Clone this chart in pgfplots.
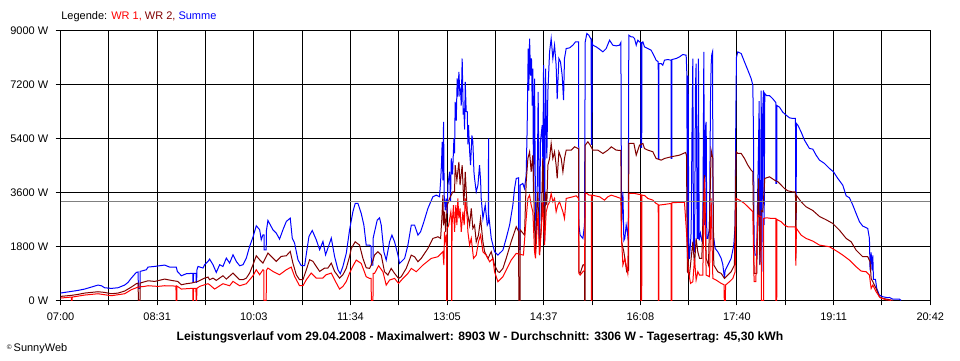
\documentclass[border=0pt]{standalone}
\usepackage{fontspec}
\setmainfont{Liberation Sans}
\usepackage{pgfplots}
\pgfplotsset{compat=1.18}
\definecolor{wrone}{RGB}{255,0,0}
\definecolor{wrtwo}{RGB}{128,0,0}
\definecolor{summe}{RGB}{0,0,255}
\definecolor{avgc}{RGB}{128,128,128}
\begin{document}
\begin{tikzpicture}
\path[use as bounding box] (-45.4pt,-44.8pt) rectangle (674.6pt,225.3pt);
\begin{axis}[
  at={(0pt,0pt)}, anchor=south west,
  scale only axis, width=652.3pt, height=202.4pt,
  xmin=0, xmax=822, ymin=0, ymax=9000,
  xtick={0,91.333,182.667,274,365.333,456.667,548,639.333,730.667,822},
  xticklabels={07:00,08:31,10:03,11:34,13:05,14:37,16:08,17:40,19:11,20:42},
  minor xtick={45.667,137,228.333,319.667,411,502.333,593.667,685,776.333},
  ytick={0,1800,3600,5400,7200,9000},
  yticklabels={0 W,1800 W,3600 W,5400 W,7200 W,9000 W},
  grid=both,
  major grid style={black, line width=0.75pt},
  minor grid style={black, line width=0.75pt},
  axis line style={black, line width=0.75pt},
  every tick/.style={black, line width=0.75pt},
  tick align=outside,
  major tick length=3.75pt, minor tick length=3.75pt,
  xtick pos=bottom, ytick pos=left,
  ticklabel style={font=\fontsize{8.25}{10}\selectfont},
  xticklabel style={yshift=-2.25pt},
  yticklabel style={xshift=-1.9pt},
  line join=miter,
]
\addplot[summe, line width=0.75pt] table {
t w
0 245
10.2 300
16.5 333
22.8 378
29.1 444
35.4 511
38.6 489
41.7 422
48.0 400
54.3 422
60.6 511
63.8 600
66.9 744
71.6 933
73.4 950
73.5 400
75.1 400
75.2 967
81.1 1022
82.7 1111
89.0 1133
98.4 1178
103.1 1111
109.4 1111
110.4 967
114.2 822
118.9 889
123.6 900
125.1 900
125.2 600
125.6 600
125.7 900
128.1 900
128.2 600
128.7 600
128.8 1000
129.9 1133
134.6 1080
136.2 1189
139.4 1300
140.9 1378
144.1 1189
147.2 933
150.4 1189
153.5 1133
156.7 1411
159.8 1244
163.0 1522
166.1 1300
169.3 1156
172.4 1189
175.6 1411
178.7 1800
181.9 2111
185.0 2489
188.2 2356
189.7 2022
191.3 2189
192.3 2189
192.4 1689
194.4 1689
194.5 2300
196.0 2667
200.7 2356
203.9 2244
207.0 2044
210.2 2356
213.4 2633
217.1 2744
219.0 2078
221.2 1911
224.4 1356
227.5 1156
230.7 1156
232.9 1689
234.8 2133
237.9 2333
241.7 2022
244.9 1689
248.0 1967
250.5 1522
252.7 1744
255.9 2078
259.0 1467
262.2 1022
264.4 889
266.9 1133
270.1 1578
273.2 2356
276.3 2956
278.5 3233
281.1 3233
284.2 2900
286.7 2511
288.9 1844
292.1 1844
293.6 1800
293.7 1178
295.3 1178
295.4 2067
299.3 2678
301.5 2756
303.1 2511
305.6 1622
307.8 1344
311.0 1956
313.2 2178
315.7 1956
318.9 1511
320.4 1233
325.2 1400
328.3 1844
331.5 2511
334.6 2511
337.8 2178
340.3 2289
343.4 2622
347.2 3067
351.9 3456
355.1 3511
358.2 3456
359.2 3956
360.1 4600
360.7 5289
361.4 4000
362.0 5956
362.6 3500
363.6 3000
364.5 3400
365.5 2900
366.1 3844
367.7 4289
368.6 3300
369.3 4733
370.5 4200
371.8 5400
372.4 4900
373.0 6622
374.0 6000
374.9 7400
375.6 6800
376.5 7622
377.4 6900
378.1 7000
378.7 6500
379.6 8067
380.6 6200
381.2 6400
381.9 5700
382.5 7289
383.4 6300
384.4 6289
385.0 5200
385.6 5844
386.6 5000
387.5 4511
388.8 5500
389.7 5289
390.7 4300
391.3 4067
392.9 3622
394.5 3844
396.0 4511
397.0 4000
397.6 3400
399.2 2733
401.4 3178
403.3 2511
404.4 2600
404.5 5400
404.7 2844
407.1 2067
410.2 1622
413.4 1511
414.9 1567
418.1 1678
421.2 2067
424.4 2511
427.5 3178
429.1 3733
430.7 4067
432.9 4089
433.0 1700
434.3 1700
434.4 3844
436.9 3900
438.5 3733
440.1 4178
441.0 5733
442.0 8400
442.6 7000
443.3 8733
444.2 7500
445.1 8067
445.8 6500
446.4 7733
447.0 3622
448.0 7400
448.9 2956
449.6 2067
450.5 3622
451.4 6956
452.7 1844
453.6 5289
455.2 5844
455.9 4500
456.5 7844
457.4 1956
458.4 7733
459.6 4733
460.6 6956
462.2 8289
463.7 8733
465.3 8067
466.9 8511
468.4 7844
469.4 6711
471.0 8067
472.5 7956
474.1 7511
475.4 6678
476.3 8067
477.9 8400
481.1 8422
484.2 8511
486.7 8622
489.6 8622
489.9 2511
491.1 2178
493.7 2067
495.2 2511
495.9 8622
497.4 8900
499.3 8844
501.5 8700
501.7 5200
502.2 5200
502.5 8600
503.1 8511
506.3 8456
509.4 8378
512.6 8289
515.7 8400
518.9 8678
522.0 8511
525.2 8489
528.3 8511
529.6 8600
530.2 2511
531.5 3622
532.4 2000
533.3 2067
534.6 2511
535.9 2233
536.5 2000
537.1 8844
539.3 8789
540.9 8789
542.5 8733
544.1 8511
545.6 8678
547.2 8622
548.5 8600
548.6 5100
549.3 5100
549.4 8600
550.4 8622
551.9 8456
555.1 8400
558.2 8344
561.4 8122
562.9 8011
564.9 7956
565.0 4733
565.5 4733
565.6 7900
567.7 7900
569.2 7844
570.8 8011
573.9 8033
577.0 8011
577.1 4733
577.8 4733
577.9 8033
581.8 8067
585.0 8122
588.1 8200
591.3 8178
591.9 7600
592.5 1400
593.2 7500
593.8 1400
594.4 1400
595.4 1900
596.0 2289
596.9 6000
597.6 8067
598.2 1600
599.2 1622
600.1 7100
600.7 7900
601.7 2067
602.3 2067
602.9 8067
603.6 2000
604.8 2244
606.1 2000
607.0 2067
608.0 8289
608.6 2511
609.6 5800
610.2 5956
610.8 2067
611.8 2067
613.3 2422
614.3 6700
614.9 7844
615.5 8200
616.2 8289
616.8 2067
617.4 2067
618.7 1733
621.2 1622
624.4 1400
625.9 1200
627.5 733
628.1 1000
630.7 1178
633.8 1400
636.3 1844
637.6 2511
638.2 6000
638.8 8100
640.1 8289
643.3 8233
646.4 7956
649.6 7678
652.7 7400
654.3 7178
654.9 5600
655.5 1900
656.5 1511
658.0 1511
659.0 3844
659.6 5000
660.3 6644
660.9 1200
661.5 2000
662.2 7000
662.8 956
663.7 6400
664.4 7000
665.0 2511
665.6 6900
667.2 6833
670.0 6833
673.2 6722
676.0 6600
676.1 3900
676.9 3900
677.0 6500
679.5 6444
682.6 6278
685.8 6178
688.9 6089
692.1 6067
694.6 6067
694.9 2700
695.2 2700
695.5 5900
696.8 5844
699.9 5622
703.1 5344
707.8 5067
711.0 5044
714.1 4844
717.3 4678
722.0 4567
726.7 4400
730.5 4289
734.6 4067
739.3 3844
742.5 3489
745.6 3422
748.8 3178
751.9 2900
755.1 2622
758.2 2478
762.9 2400
764.5 2067
765.1 1000
766.1 1600
767.0 1000
767.7 1500
768.3 700
770.2 700
771.4 400
773.9 178
777.1 122
781.8 89
783.4 100
786.5 44
792.8 44
794.4 0
};
\addplot[wrtwo, line width=0.75pt] table {
t w
0 133
10.2 167
16.5 200
22.8 244
35.4 289
41.7 267
48.0 222
54.3 244
60.6 311
66.9 444
71.6 556
73.4 578
73.5 0
75.1 0
75.2 578
82.7 655
89.0 633
98.4 711
104.7 667
110.7 633
114.2 522
118.9 556
123.6 578
129.9 633
136.2 744
139.4 778
140.9 689
144.1 744
147.2 667
153.5 822
156.7 711
163.0 911
166.1 800
169.3 689
172.4 689
175.6 744
178.7 911
181.9 1189
185.0 1489
188.2 1356
191.3 1244
196.0 1578
200.7 1411
203.9 1300
208.6 1467
213.4 1489
217.1 1633
219.6 1244
222.8 856
225.9 689
229.1 689
232.3 1022
235.4 1356
238.6 1300
241.7 1133
244.9 967
249.6 1078
252.7 1078
255.9 1244
259.0 967
263.7 744
266.9 856
270.1 1078
273.2 1467
274.8 1733
278.5 1956
282.6 1844
285.8 1400
288.9 1089
292.1 1067
294.3 1233
296.8 1511
299.9 1622
303.1 1511
306.2 956
309.4 844
312.5 1067
315.7 900
319.5 733
322.0 789
326.7 1067
331.5 1511
334.6 1456
337.8 1289
340.9 1400
347.2 1733
351.9 2067
356.7 2122
359.2 2067
360.4 2733
361.4 3511
362.0 2500
363.0 2956
364.0 2289
365.5 3178
367.7 3400
370.8 3622
372.4 3622
373.0 4511
374.6 4000
376.5 4622
377.6 3844
379.6 4511
381.2 3178
382.5 4289
384.4 2956
386.6 2511
388.2 3067
389.7 2400
391.3 2511
392.9 1956
395.0 2178
397.0 2733
399.2 1956
400.8 1622
404.0 1400
407.1 1622
410.2 1178
413.4 956
414.9 933
418.1 1067
421.2 1400
425.9 1956
430.7 2456
433.0 2289
433.1 0
434.3 0
434.4 2356
438.5 2178
440.1 3956
441.7 4733
443.3 4956
444.8 4289
446.4 4844
448.0 2511
448.9 1622
450.2 3178
451.1 3622
452.7 1511
454.3 2511
455.8 4733
457.4 1956
458.4 3622
459.6 3178
460.6 4511
462.2 4733
463.7 5233
465.3 4733
466.9 4956
468.4 4511
469.4 4067
471.0 4956
473.2 4733
474.8 4289
476.3 4733
477.9 5011
482.6 5011
485.8 5122
489.6 5056
489.9 956
491.1 900
493.7 1178
495.2 1200
495.3 0
495.8 0
495.9 5178
498.4 5289
500.6 5178
503.1 5011
507.9 5011
512.6 4900
517.3 5011
520.5 5122
525.2 5011
529.6 5000
530.2 1956
532.4 1622
535.1 956
536.8 1000
537.1 5233
541.9 5233
544.1 4844
547.2 5178
550.4 5233
551.9 5067
555.1 5011
559.8 4956
562.9 4733
567.7 4678
570.8 4733
577.1 4789
585.0 4844
590.7 4933
591.6 4844
592.5 956
594.4 844
596.0 1400
597.6 1956
599.2 1178
600.7 2067
602.3 1622
603.9 1400
606.1 1400
607.0 2511
608.6 4178
610.2 1400
612.4 1178
614.9 5000
616.5 4733
617.4 1178
621.2 956
624.4 900
627.5 733
630.7 844
633.8 956
636.9 1178
638.5 4956
640.1 4900
643.3 4900
646.4 4733
649.6 4511
652.7 4344
654.3 4289
655.5 900
658.0 900
659.6 4067
661.0 1178
662.2 3000
663.7 2956
665.6 4067
670.0 4122
674.8 4011
678.0 3956
681.1 3844
684.2 3733
687.3 3656
691.2 3622
694.6 3622
694.9 1400
695.5 3500
699.9 3289
704.6 3122
710.9 3000
717.3 2800
723.6 2689
729.8 2567
736.1 2344
742.5 2067
747.2 1956
751.9 1678
758.2 1456
762.9 1456
765.1 1289
766.1 733
767.7 622
770.8 400
773.9 122
777.1 67
783.4 22
787.0 0
};
\addplot[wrone, line width=0.75pt] table {
t w
0 78
10.2 111
10.3 0
11.0 0
11.1 111
22.8 178
35.4 222
41.7 189
48.0 156
60.6 222
66.9 356
73.2 444
79.5 467
82.7 489
92.1 467
98.4 489
109.1 478
109.2 0
109.9 0
110.0 478
114.2 378
123.6 400
125.0 400
125.1 0
125.6 0
125.7 400
128.0 400
128.1 0
128.7 0
128.8 400
131.5 467
136.2 522
139.4 556
140.9 522
145.6 378
153.5 556
159.8 489
163.0 633
169.3 489
175.6 556
181.9 822
185.0 1022
188.2 856
191.3 1022
192.2 1000
192.3 0
194.4 0
194.5 1000
196.0 1078
200.7 967
207.0 856
213.4 1022
218.0 1111
221.2 800
225.9 489
229.1 489
232.3 689
236.9 911
241.7 744
247.9 744
251.1 856
255.9 911
259.0 689
263.7 378
266.9 467
270.1 633
273.2 911
276.5 1156
279.5 1344
284.2 1233
288.9 789
292.0 733
293.6 733
293.7 0
295.3 0
295.4 900
296.8 900
300.6 1156
304.7 956
307.8 511
311.0 678
315.7 733
319.5 567
323.6 733
328.3 900
331.5 1067
336.2 956
342.5 1178
350.3 1400
356.7 1456
361.4 1622
362.3 1178
362.9 2289
363.6 1956
364.9 2189
365.0 0
365.3 0
365.4 2400
366.8 2500
368.9 2956
369.5 2700
369.6 0
369.9 0
370.0 2511
371.4 3178
372.4 2289
373.6 3178
374.6 2511
375.5 3400
376.5 2733
377.6 3067
378.7 2289
380.3 2956
381.5 2511
382.5 3400
384.4 2722
385.0 2289
386.6 1844
388.2 2067
390.3 1400
392.9 1511
395.0 1956
397.0 2178
399.2 1622
402.3 1511
405.5 1289
408.6 1400
410.2 956
413.4 622
414.9 678
418.1 789
421.2 1011
425.9 1344
430.7 1567
437.5 1511
440.1 2733
441.7 3400
443.3 3511
444.8 3178
446.4 2956
448.0 1622
448.9 1400
450.2 2289
451.4 2956
452.7 1511
454.3 2289
455.8 3289
457.4 1844
459.0 2956
460.6 3178
462.2 3289
463.7 3567
465.3 3289
466.9 3400
468.4 2956
470.0 3178
471.6 3289
474.8 2956
476.3 2733
477.9 3400
484.2 3456
487.4 3489
489.6 3400
489.9 900
491.1 844
493.7 956
495.2 1000
495.9 3567
497.4 3567
499.6 3511
501.6 3511
501.7 0
502.2 0
502.3 3511
509.4 3456
514.1 3344
517.3 3456
520.5 3511
525.2 3456
529.6 3400
530.2 2067
531.5 1178
533.3 1400
536.1 900
537.1 3567
542.5 3567
547.2 3533
548.5 3533
548.6 0
549.3 0
549.4 3511
551.9 3500
555.1 3400
559.8 3344
562.9 3233
564.9 3200
565.0 0
565.5 0
565.6 3178
570.8 3200
577.0 3233
577.1 0
577.8 0
577.9 3256
583.4 3267
589.7 3267
591.6 2289
593.5 956
595.4 567
597.6 622
599.2 1400
600.7 678
602.3 956
603.9 844
607.0 844
608.6 4067
610.2 844
613.3 789
614.9 3400
616.5 733
619.6 678
624.4 567
627.2 520
627.3 0
628.4 0
628.5 511
632.2 622
635.4 733
637.6 956
638.5 3400
641.7 3344
646.4 3233
649.6 3122
654.3 2956
655.5 622
657.1 622
659.0 2844
661.0 2800
662.2 2800
662.3 0
664.5 0
664.6 2733
667.2 2756
671.9 2733
676.0 2733
676.1 0
676.9 0
677.0 2700
681.1 2622
684.2 2511
687.3 2456
694.6 2456
694.9 1156
695.5 2400
699.9 2178
704.6 2067
711.0 1978
717.3 1844
726.7 1789
734.6 1622
739.3 1511
745.6 1344
751.9 1122
756.7 978
761.4 956
764.5 844
766.1 400
767.7 511
770.8 289
774.6 89
780.0 22
785.0 0
};
\addplot[avgc, line width=0.75pt] coordinates {(0,3306) (822,3306)};
\end{axis}
\node[anchor=west, inner sep=0pt, font=\fontsize{8.25}{10}\selectfont] at (0.4pt,212.5pt)
  {Legende: \textcolor{wrone}{WR 1,} \textcolor{wrtwo}{WR 2,} \textcolor{summe}{Summe}};
\node[inner sep=0pt, font=\bfseries\fontsize{9.1}{11}\selectfont] at (314.6pt,-27.6pt)
  {Leistungsverlauf vom 29.04.2008 - Maximalwert: 8903 W - Durchschnitt: 3306 W - Tagesertrag: 45,30 kWh};
\node[anchor=west, inner sep=0pt, font=\fontsize{8.25}{10}\selectfont] at (-40.4pt,-36.5pt)
  {{\fontsize{5}{5}\selectfont\raisebox{2pt}{©}}\,SunnyWeb};
\end{tikzpicture}
\end{document}
